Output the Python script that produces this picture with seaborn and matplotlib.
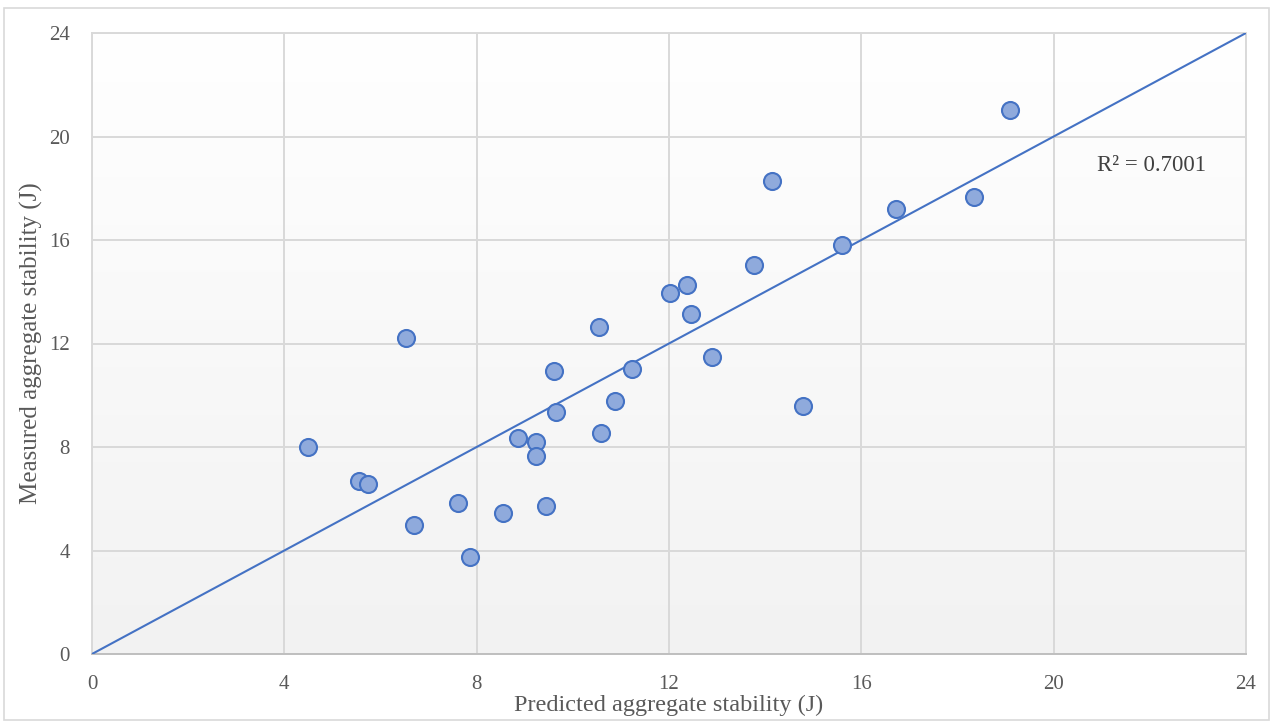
import numpy as np
import pandas as pd
import matplotlib
matplotlib.use("Agg")
import matplotlib.pyplot as plt
import seaborn as sns
from matplotlib.patches import Rectangle

# ---- data ----
predicted = [4.49, 5.55, 5.74, 6.53, 6.70, 7.61, 7.86, 8.55, 8.86, 9.23, 9.23, 9.44,
             9.61, 9.65, 10.55, 10.59, 10.88, 11.23, 12.02, 12.38, 12.46, 12.90,
             13.77, 14.14, 14.79, 15.60, 16.72, 18.34, 19.09]
measured = [8.00, 6.69, 6.57, 12.21, 4.99, 5.84, 3.75, 5.45, 8.35, 8.19, 7.65, 5.72,
            10.94, 9.35, 12.64, 8.54, 9.78, 11.01, 13.95, 14.26, 13.14, 11.48,
            15.03, 18.28, 9.58, 15.81, 17.20, 17.66, 21.02]
trend_slope = 1.0
r2_label = "R² = 0.7001"
ticks = [0, 4, 8, 12, 16, 20, 24]
x_label = "Predicted aggregate stability (J)"
y_label = "Measured aggregate stability (J)"

df = pd.DataFrame({"predicted": predicted, "measured": measured})
trend = pd.DataFrame({"x": [ticks[0], ticks[-1]]})
trend["y"] = trend_slope * trend["x"]

sns.set_theme(style="white")
plt.rcParams["font.family"] = ["Liberation Serif", "DejaVu Serif"]

fig = plt.figure(figsize=(12.73, 7.24), dpi=100)
ax = fig.add_axes([92 / 1273, 1 - 654 / 724, (1246 - 92) / 1273, (654 - 33) / 724])

# outer chart border
fig.patches.append(Rectangle((4 / 1273, 4 / 724), 1 - 8 / 1273, 1 - 12 / 724,
                             transform=fig.transFigure, fill=False,
                             edgecolor="#d9d9d9", linewidth=1.2))

# plot-area gradient background (white at top, light grey at bottom)
grad = np.linspace(0.0, 1.0, 256).reshape(-1, 1)
cmap = matplotlib.colors.LinearSegmentedColormap.from_list("bg", ["#f2f2f2", "#ffffff"])
ax.imshow(grad, extent=[ticks[0], ticks[-1], ticks[0], ticks[-1]], aspect="auto",
          cmap=cmap, origin="lower", zorder=0)

sns.lineplot(data=trend, x="x", y="y", ax=ax, color="#4472c4", linewidth=1.5, zorder=3)
sns.scatterplot(data=df, x="predicted", y="measured", ax=ax, s=150,
                color="#8faadc", edgecolor="#4472c4", linewidth=1.5, zorder=4)

ax.set_xlim(ticks[0], ticks[-1])
ax.set_ylim(ticks[0], ticks[-1])
ax.set_xticks(ticks)
ax.set_yticks(ticks)
ax.set_xticklabels([str(t) for t in ticks])
ax.set_yticklabels([str(t) for t in ticks])
ax.grid(True, color="#d9d9d9", linewidth=1.4, zorder=1)
ax.set_axisbelow(True)
for s in ax.spines.values():
    s.set_color("#d9d9d9")
    s.set_linewidth(1.4)
ax.spines["bottom"].set_color("#bfbfbf")

ax.tick_params(axis="both", length=0, labelsize=15, labelcolor="#595959")
ax.tick_params(axis="x", pad=15)
ax.tick_params(axis="y", pad=16)

ax.set_xlabel(x_label, fontsize=17.5, color="#595959", labelpad=1)
ax.set_ylabel(y_label, fontsize=18, color="#595959", labelpad=4)

ax.text(0.871, 0.787, r2_label, transform=ax.transAxes, fontsize=16.5,
        color="#404040", ha="left", va="center")

fig.savefig("out.png", dpi=100)
